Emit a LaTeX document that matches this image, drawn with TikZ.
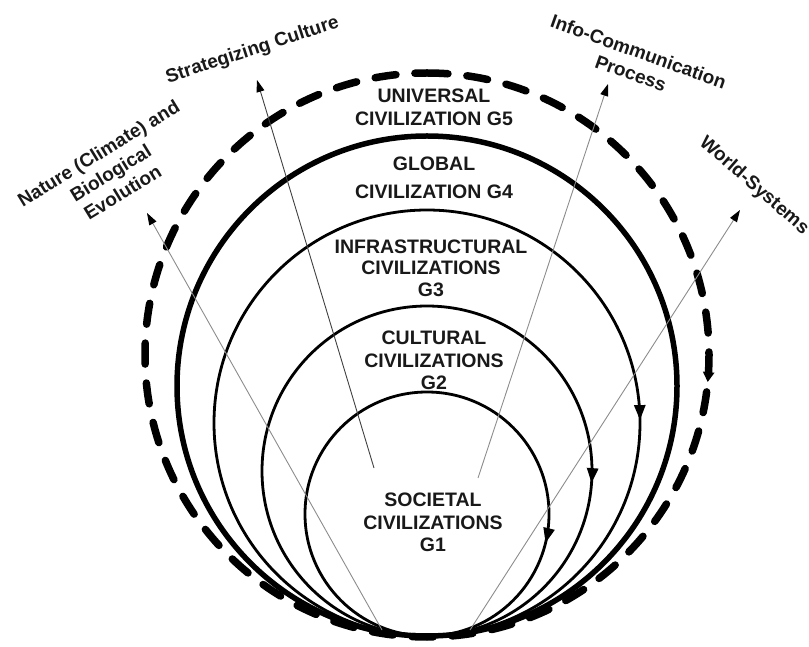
\documentclass[tikz,border=0pt]{standalone}
\usepackage{fontspec}
\setmainfont{Liberation Sans}
\usetikzlibrary{arrows.meta,decorations.markings}

\begin{document}
\begin{tikzpicture}[x=1pt,y=1pt,
  ring/.style={line width=2.8pt, black},
  thickring/.style={line width=5.5pt, black},
  dashring/.style={line width=7.5pt, black, line cap=round, dash pattern=on 21pt off 19pt},
  flowtip/.style={postaction={decorate, decoration={markings,
      mark=at position #1 with {\arrow{Triangle[length=15pt,width=11pt]}}}}},
  smalltip/.style={postaction={decorate, decoration={markings,
      mark=at position #1 with {\arrow{Triangle[length=10pt,width=11pt]}}}}},
  axis/.style={line width=0.9pt, draw=black!45, -{Triangle[length=12pt,width=8pt,color=black]}},
  darkaxis/.style={axis, draw=black!75},
  lab/.style={font=\bfseries\fontsize{19.5}{22.5}\selectfont, align=center, inner sep=0pt, text=black!90},
  outer/.style={font=\bfseries\fontsize{19}{23}\selectfont, align=center, inner sep=0pt, text=black!90}]

\useasboundingbox (0,0) rectangle (809,646);

% nested civilisation rings, all touching at the bottom, drawn clockwise from the top
\draw[dashring, smalltip=0.2653] (427,573) arc[start angle=90, end angle=-270, radius=282];
\draw[thickring] (427,260) circle[radius=250];
\draw[ring, flowtip=0.2478] (427,436) arc[start angle=90, end angle=-270, radius=213];
\draw[ring, flowtip=0.2617] (427,340) arc[start angle=90, end angle=-270, radius=165];
\draw[ring, flowtip=0.2882] (427,254) arc[start angle=90, end angle=-270, radius=122];

% ring labels
\node[lab] (g5) at (434,538.75) {UNIVERSAL\\CIVILIZATION G5};
\node[lab, font=\bfseries\fontsize{19.5}{28.5}\selectfont] (g4) at (434,468.25) {GLOBAL\\CIVILIZATION G4};
\node[lab, font=\bfseries\fontsize{19.5}{21.75}\selectfont] (g3) at (431,377.75) {INFRASTRUCTURAL\\CIVILIZATIONS\\G3};
\node[lab] (g2) at (434,285.5) {CULTURAL\\CIVILIZATIONS\\G2};
\node[lab] (g1) at (433,123.5) {SOCIETAL\\CIVILIZATIONS\\G1};

% driving factors
\coordinate (natTail) at (382,16);
\coordinate (natTip) at (147,433);
\coordinate (strTail) at (374,178);
\coordinate (strTip) at (257,566);
\coordinate (infTail) at (478,168);
\coordinate (infTip) at (608,562);
\coordinate (wsTail) at (470,16);
\coordinate (wsTip) at (740,436);

\draw[axis] (natTail) -- (natTip);
\draw[darkaxis] (strTail) -- (strTip);
\draw[axis] (infTail) -- (infTip);
\draw[axis] (wsTail) -- (wsTip);

\node[outer, rotate=31.5] (nat) at (110.5,473.25) {Nature (Climate) and\\Biological\\Evolution};
\node[outer, rotate=18] (str) at (252.5,595.5) {Strategizing Culture};
\node[outer, rotate=-19.6] (inf) at (634.75,583.6) {Info-Communication\\Process};
\node[outer, rotate=-41] (ws) at (754,460) {World-Systems};
\end{tikzpicture}
\end{document}
